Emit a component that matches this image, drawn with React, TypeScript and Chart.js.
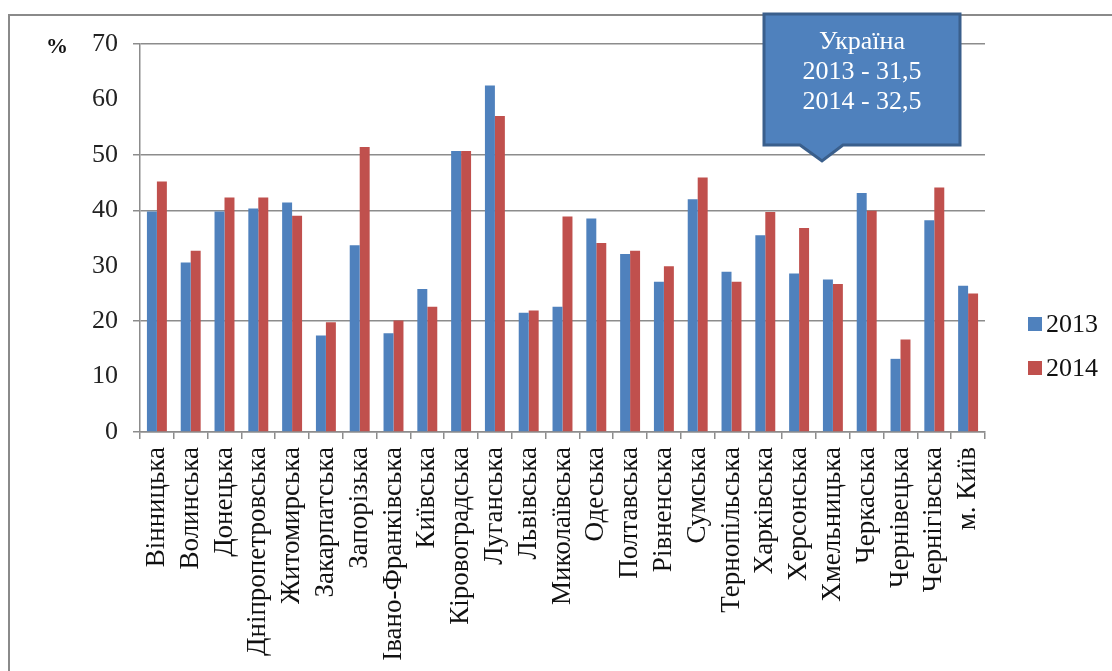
import React, { useEffect, useRef } from 'react';
import { Chart, registerables } from 'chart.js';

Chart.register(...registerables);

const regions = [
  'Вінницька', 'Волинська', 'Донецька', 'Дніпропетровська', 'Житомирська',
  'Закарпатська', 'Запорізька', 'Івано-Франківська', 'Київська', 'Кіровоградська',
  'Луганська', 'Львівська', 'Миколаївська', 'Одеська', 'Полтавська',
  'Рівненська', 'Сумська', 'Тернопільська', 'Харківська', 'Херсонська',
  'Хмельницька', 'Черкаська', 'Чернівецька', 'Чернігівська', 'м. Київ',
];

const values2013 = [
  39.8, 30.6, 39.8, 40.3, 41.4, 17.4, 33.7, 17.8, 25.8, 50.7,
  62.5, 21.5, 22.6, 38.5, 32.1, 27.1, 42.0, 28.9, 35.5, 28.6,
  27.5, 43.1, 13.2, 38.2, 26.4,
];

const values2014 = [
  45.2, 32.7, 42.3, 42.3, 39.0, 19.8, 51.4, 20.1, 22.6, 50.7,
  57.0, 21.9, 38.9, 34.1, 32.7, 29.9, 45.9, 27.1, 39.7, 36.8,
  26.7, 39.9, 16.7, 44.1, 25.0,
];

const seriesNames = ['2013', '2014'];
const seriesColors = ['#4F81BD', '#C0504D'];
const visibleGridValues = [0, 20, 40, 50, 70];
const calloutLines = ['Україна', '2013 - 31,5', '2014 - 32,5'];
const unitLabel = '%';

const FONT = '"Liberation Serif", "Times New Roman", serif';
const GRID = '#8c8c8c';

const overlayPlugin = {
  id: 'overlay',
  afterDraw(chart: any) {
    const ctx = chart.ctx;
    ctx.save();
    // unit label
    ctx.fillStyle = '#111';
    ctx.font = `bold 22px ${FONT}`;
    ctx.textAlign = 'center';
    ctx.textBaseline = 'middle';
    ctx.fillText(unitLabel, 57, 47);

    // callout
    ctx.beginPath();
    ctx.moveTo(764, 14);
    ctx.lineTo(960, 14);
    ctx.lineTo(960, 145);
    ctx.lineTo(843, 145);
    ctx.lineTo(822, 161);
    ctx.lineTo(800, 145);
    ctx.lineTo(764, 145);
    ctx.closePath();
    ctx.fillStyle = '#4F81BD';
    ctx.fill();
    ctx.lineWidth = 3;
    ctx.strokeStyle = '#3A5F8C';
    ctx.stroke();
    ctx.fillStyle = '#ffffff';
    ctx.font = `26px ${FONT}`;
    ctx.textAlign = 'center';
    ctx.textBaseline = 'middle';
    calloutLines.forEach((t, i) => ctx.fillText(t, 862, 42 + i * 30));

    // legend
    ctx.font = `26px ${FONT}`;
    ctx.textAlign = 'left';
    seriesNames.forEach((name, i) => {
      const cy = 324 + i * 44;
      ctx.fillStyle = seriesColors[i];
      ctx.fillRect(1028, cy - 7, 14, 14);
      ctx.fillStyle = '#111';
      ctx.fillText(name, 1046, cy + 1);
    });
    ctx.restore();
  },
};

export default function App() {
  const canvasRef = useRef<HTMLCanvasElement | null>(null);

  useEffect(() => {
    const canvas = canvasRef.current;
    if (!canvas) return;
    const chart = new Chart(canvas, {
      type: 'bar',
      data: {
        labels: regions,
        datasets: [
          {
            label: seriesNames[0],
            data: values2013,
            backgroundColor: seriesColors[0],
            categoryPercentage: 0.59,
            barPercentage: 1.0,
          },
          {
            label: seriesNames[1],
            data: values2014,
            backgroundColor: seriesColors[1],
            categoryPercentage: 0.59,
            barPercentage: 1.0,
          },
        ],
      },
      options: {
        responsive: false,
        animation: false,
        layout: { padding: { left: 0, top: 44, right: 127, bottom: 0 } },
        plugins: {
          legend: { display: false },
          tooltip: { enabled: false },
        },
        scales: {
          x: {
            grid: {
              offset: true,
              drawOnChartArea: false,
              drawTicks: true,
              tickLength: 7,
              color: GRID,
              lineWidth: 1.5,
            },
            border: { display: true, color: GRID, width: 1.5 },
            ticks: {
              autoSkip: false,
              minRotation: 90,
              maxRotation: 90,
              padding: 8,
              color: '#111',
              font: { family: FONT, size: 27 },
            },
            afterFit(scale: any) {
              scale.height = 239;
            },
          },
          y: {
            min: 0,
            max: 70,
            ticks: {
              stepSize: 10,
              padding: 15,
              color: '#222',
              font: { family: FONT, size: 26 },
            },
            grid: {
              tickLength: 7,
              lineWidth: 1.5,
              color: (c: any) =>
                visibleGridValues.includes(c.tick?.value) ? GRID : 'rgba(0,0,0,0)',
            },
            border: { display: true, color: GRID, width: 1.5 },
            afterFit(scale: any) {
              scale.width = 140;
            },
          },
        },
      },
      plugins: [overlayPlugin],
    });
    return () => chart.destroy();
  }, []);

  return (
    <div
      style={{
        position: 'fixed',
        left: 0,
        top: 0,
        width: 1112,
        height: 671,
        overflow: 'hidden',
        background: '#ffffff',
      }}
    >
      <div
        style={{
          position: 'absolute',
          left: 8,
          top: 14,
          width: 1200,
          height: 800,
          border: '2px solid #8a8a8a',
        }}
      />
      <canvas
        ref={canvasRef}
        width={1112}
        height={671}
        style={{ position: 'absolute', left: 0, top: 0, width: 1112, height: 671 }}
      />
    </div>
  );
}
